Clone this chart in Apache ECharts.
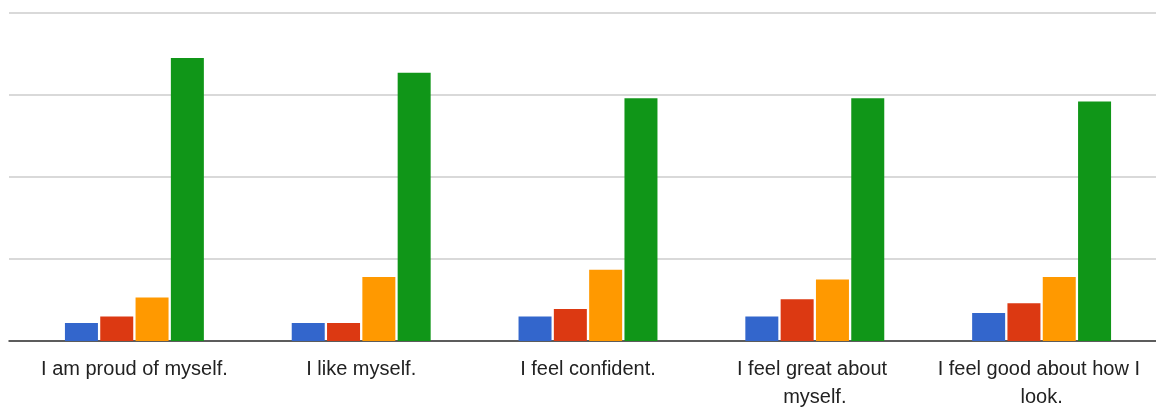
<!DOCTYPE html>
<html>
<head>
<meta charset="utf-8">
<title>Self-esteem responses</title>
<script src="https://cdn.jsdelivr.net/npm/echarts@6/dist/echarts.min.js"></script>
<style>
  html, body { margin: 0; padding: 0; background: #ffffff; }
  #chart { width: 1156px; height: 414px; }
</style>
</head>
<body>
<div id="chart"></div>
<script>
// Statements on the category axis
const statements = [
  'I am proud of myself.',
  'I like myself.',
  'I feel confident.',
  'I feel great about myself.',
  'I feel good about how I look.'
];

// Response counts per answer option (four options, one series each)
const option1 = [2.2, 2.2, 3.0, 3.0, 3.4];
const option2 = [3.0, 2.2, 3.9, 5.1, 4.6];
const option3 = [5.3, 7.8, 8.7, 7.5, 7.8];
const option4 = [34.5, 32.7, 29.6, 29.6, 29.2];

// Value scale
const yMax = 40;
const yStep = 10;

const colors = ['#3366cc', '#dc3912', '#ff9900', '#109618'];
const seriesData = [option1, option2, option3, option4];

const chart = echarts.init(document.getElementById('chart'), null, { renderer: 'canvas' });

const bars = seriesData.map((values, i) => ({
  type: 'bar',
  xAxisIndex: 1,
  yAxisIndex: 1,
  data: values,
  barWidth: 33,
  barGap: '7%',
  itemStyle: { color: colors[i] },
  emphasis: { disabled: true }
}));

chart.setOption({
  animation: false,
  backgroundColor: '#ffffff',
  grid: [
    // full-width frame carrying the gridlines and baseline
    { left: 9, right: 0, top: 13, bottom: 73 },
    // category band holding the bars and labels
    { left: 21, right: 1, top: 13, bottom: 73 }
  ],
  xAxis: [
    {
      type: 'value', gridIndex: 0, min: 0, max: 1,
      axisLine: { show: true, lineStyle: { color: '#333333', width: 1.5 } },
      axisTick: { show: false },
      axisLabel: { show: false },
      splitLine: { show: false }
    },
    {
      type: 'category', gridIndex: 1, data: statements,
      axisLine: { show: false },
      axisTick: { show: false },
      axisLabel: {
        interval: 0,
        margin: 14,
        color: '#222222',
        fontFamily: 'Liberation Sans, Arial, sans-serif',
        fontSize: 20,
        lineHeight: 28,
        width: 210,
        overflow: 'break',
        align: 'center'
      },
      splitLine: { show: false }
    }
  ],
  yAxis: [
    {
      type: 'value', gridIndex: 0, min: 0, max: yMax, interval: yStep,
      axisLine: { show: false },
      axisTick: { show: false },
      axisLabel: { show: false },
      splitLine: { show: true, lineStyle: { color: '#cccccc', width: 1.5 } }
    },
    {
      type: 'value', gridIndex: 1, min: 0, max: yMax, interval: yStep,
      axisLine: { show: false },
      axisTick: { show: false },
      axisLabel: { show: false },
      splitLine: { show: false }
    }
  ],
  series: bars
});
</script>
</body>
</html>
